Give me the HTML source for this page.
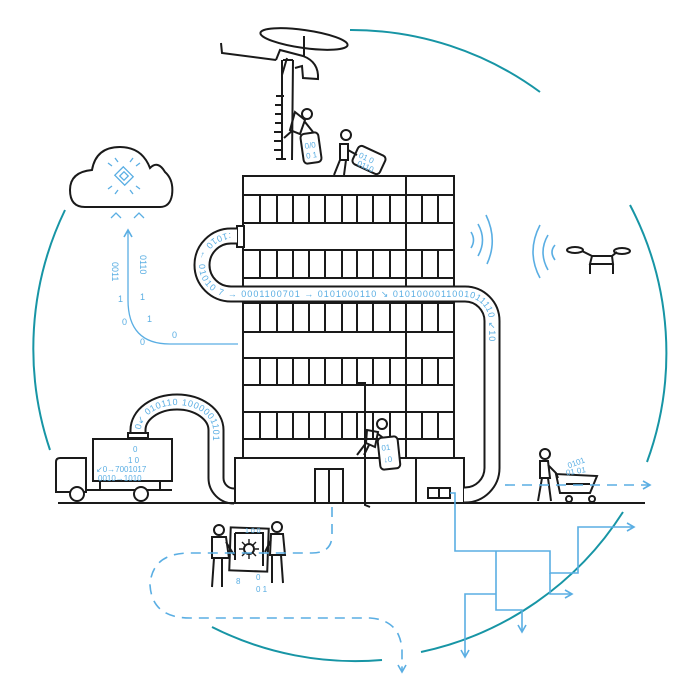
<!DOCTYPE html>
<html><head><meta charset="utf-8"><style>
html,body{margin:0;padding:0;background:#fff;}
svg{display:block;}
text{font-family:"Liberation Sans",sans-serif;fill:#5aaee3;}
</style></head><body>
<svg width="700" height="700" viewBox="0 0 700 700" xmlns="http://www.w3.org/2000/svg">
<defs>
<marker id="ah" markerWidth="10" markerHeight="10" refX="8" refY="5" orient="auto" markerUnits="userSpaceOnUse">
<path d="M1,1 L8,5 L1,9" fill="none" stroke="#5aaee3" stroke-width="1.6"/></marker>
</defs>
<g fill="none" stroke="#1795a5" stroke-width="2">
<path d="M350,30 A318,318 0 0 1 540,92"/>
<path d="M630,205 A318,318 0 0 1 647,462"/>
<path d="M623,512 A318,318 0 0 1 421,652"/>
<path d="M382,660 A318,318 0 0 1 212,627"/>
<path d="M65,210 A318,318 0 0 0 50,450"/>
</g>

<path d="M85,207 Q70,207 70,190 Q70,172 92,170 Q96,147 120,147 Q142,147 150,168 Q158,160 165,172 Q174,180 172,195 Q170,207 160,207 Z" fill="#fff" stroke="#1a1a1a" stroke-width="2"/>
<g stroke="#5aaee3" stroke-width="1.3" fill="none">
<rect x="117" y="170" width="14" height="12" transform="rotate(45 124 176)"/>
<rect x="121" y="173" width="6" height="6" transform="rotate(45 124 176)"/>
<path d="M112,166 l-4,-3 M118,162 l-3,-4 M130,162 l3,-4 M136,166 l4,-3 M112,186 l-4,3 M118,190 l-3,4 M130,190 l3,4 M136,186 l4,3"/>
<path d="M111,218 l5,-5 l5,5 M134,218 l5,-5 l5,5"/>
<path d="M238,344 L170,344 Q128,344 128,300 L128,230" marker-end="url(#ah)"/>
</g>
<text x="140" y="255" font-size="9" transform="rotate(90 140 255)">0110</text>
<text x="112" y="262" font-size="9" transform="rotate(90 112 262)">0011</text>
<text x="140" y="300" font-size="9">1</text>
<text x="118" y="302" font-size="9">1</text>
<text x="122" y="325" font-size="9">0</text>
<text x="147" y="322" font-size="9">1</text>
<text x="140" y="345" font-size="9">0</text>
<text x="172" y="338" font-size="9">0</text>

<g fill="none" stroke="#1a1a1a" stroke-width="2">
<ellipse cx="304" cy="39" rx="44" ry="9" transform="rotate(8 304 39)"/>
<path d="M304,36 L304,56"/>
<path d="M221,43 L222,53 L276,60"/>
<path d="M276,60 L280,50 L303,56 Q319,62 318,79 L303,78 L302,66 L295,68"/>
<path d="M287,58 L282,75 M282,60 L282,160 M293,60 L292,160 M283,60 L293,60"/>
<path d="M276,96 h8 M275,105 h8 M275,114 h8 M275,123 h8 M274,132 h8 M274,141 h8 M274,150 h8 M276,159 h10"/>
<circle cx="307" cy="114" r="5"/>
<path d="M295,112 L305,120 L300,134 L290,130 Z M293,130 L284,138 M305,122 L313,132"/>
<rect x="302" y="133" width="18" height="30" rx="4" transform="rotate(-8 311 148)"/>
<circle cx="346" cy="135" r="5"/>
<path d="M340,144 L348,144 L348,160 L340,160 Z M340,160 L334,175 M346,160 L344,175 M348,150 L357,155"/>
<rect x="354" y="150" width="30" height="20" rx="4" transform="rotate(25 369 160)"/>
</g>
<text x="305" y="148" font-size="8" transform="rotate(-8 311 148)">0/0</text>
<text x="305" y="158" font-size="8" transform="rotate(-8 311 148)">0 1</text>
<text x="358" y="162" font-size="8" transform="rotate(25 369 160)">01 0</text>
<text x="360" y="170" font-size="8" transform="rotate(25 369 160)">0110</text>

<rect x="243" y="176" width="211" height="282" fill="#fff" stroke="#1a1a1a" stroke-width="2"/>
<g stroke="#1a1a1a" stroke-width="2" fill="none">
<path d="M243,195H454 M243,223H454 M243,250H454 M243,278H454 M243,303H454 M243,332H454 M243,358H454 M243,385H454 M243,412H454 M243,439H454 M406,176V458"/>
<path d="M260,195V223 M277,195V223 M293,195V223 M309,195V223 M325,195V223 M342,195V223 M357,195V223 M373,195V223 M390,195V223 M422,195V223 M438,195V223"/>
<path d="M260,250V278 M277,250V278 M293,250V278 M309,250V278 M325,250V278 M342,250V278 M357,250V278 M373,250V278 M390,250V278 M422,250V278 M438,250V278"/>
<path d="M260,303V332 M277,303V332 M293,303V332 M309,303V332 M325,303V332 M342,303V332 M357,303V332 M373,303V332 M390,303V332 M422,303V332 M438,303V332"/>
<path d="M260,358V385 M277,358V385 M293,358V385 M309,358V385 M325,358V385 M342,358V385 M357,358V385 M373,358V385 M390,358V385 M422,358V385 M438,358V385"/>
<path d="M260,412V439 M277,412V439 M293,412V439 M309,412V439 M325,412V439 M342,412V439 M357,412V439 M373,412V439 M390,412V439 M422,412V439 M438,412V439"/>
</g>
<rect x="235" y="458" width="229" height="45" fill="#fff" stroke="#1a1a1a" stroke-width="2"/>
<g stroke="#1a1a1a" stroke-width="2" fill="none">
<path d="M416,458V503"/>
<rect x="315" y="469" width="28" height="34"/><path d="M329,469V503"/>
<rect x="428" y="488" width="22" height="10"/><path d="M439,488V498"/>
<path d="M358,383 L365,383 L365,505 L370,507"/>
<circle cx="382" cy="424" r="5"/>
<path d="M367,430 L378,432 L375,447 L366,443 Z M366,443 L357,455 M369,445 L364,455 M378,434 L386,440"/>
<rect x="379" y="437" width="20" height="32" rx="4" fill="#fff" transform="rotate(-6 389 453)"/>
<rect x="237" y="226" width="7" height="21" fill="#fff"/>
</g>
<text x="382" y="450" font-size="8" transform="rotate(-6 389 453)">01</text>
<text x="383" y="462" font-size="8" transform="rotate(-6 389 453)">↓0</text>

<g fill="none">
<path id="p1" d="M237,236 L231,236 A29,29 0 0 0 202,265 A29,29 0 0 0 231,294 L465,294 A27,27 0 0 1 492,321 L492,468 A27,27 0 0 1 465,495 L464,495" stroke="#1a1a1a" stroke-width="17"/>
<path d="M237,236 L231,236 A29,29 0 0 0 202,265 A29,29 0 0 0 231,294 L465,294 A27,27 0 0 1 492,321 L492,468 A27,27 0 0 1 465,495 L464,495" stroke="#fff" stroke-width="13"/>
<path id="p2" d="M138,437 L138,430 A39,28 0 0 1 216,430 L216,478 A18,18 0 0 0 234,496" stroke="#1a1a1a" stroke-width="17"/>
<path d="M138,437 L138,430 A39,28 0 0 1 216,430 L216,478 A18,18 0 0 0 234,496" stroke="#fff" stroke-width="13"/>
</g>
<text font-size="9" letter-spacing="1" dy="3"><textPath href="#p1" startOffset="6">:1010 ← 01010 7 → 0001100701 → 0101000110 ↘ 0101000011001011110 ↙10</textPath></text>
<text font-size="9" letter-spacing="1" dy="3"><textPath href="#p2" startOffset="8">0↙ 010110 1000001101</textPath></text>

<g fill="#fff" stroke="#1a1a1a" stroke-width="2">
<path d="M86,492 L56,492 L56,462 Q56,458 60,458 L86,458 Z"/>
<rect x="93" y="439" width="79" height="42"/>
<path d="M86,490 L172,490 M100,481V490 M160,481V490 M128,433h20v5h-20z"/>
<circle cx="77" cy="494" r="7"/><circle cx="141" cy="494" r="7"/>
</g>
<text x="133" y="452" font-size="8">0</text>
<text x="128" y="463" font-size="8">1 0</text>
<text x="96" y="472" font-size="8">↙0→7001017</text>
<text x="98" y="481" font-size="8">0010→1010</text>

<path d="M58,503 H645" stroke="#1a1a1a" stroke-width="2"/>

<g fill="none" stroke="#5aaee3" stroke-width="1.6">
<path d="M471,232 Q476,240 471,248 M478,224 Q487,240 478,256 M486,215 Q498,240 487,264"/>
<path d="M555,245 Q549,252 555,260 M548,235 Q538,252 548,270 M540,225 Q526,252 540,278"/>
</g>
<g fill="none" stroke="#1a1a1a" stroke-width="2">
<ellipse cx="575" cy="250" rx="8" ry="3"/><ellipse cx="622" cy="251" rx="8" ry="3"/>
<path d="M582,251 L592,256 L612,256 L617,252 M592,256 L590,264 L613,264 L612,256 M590,264 L590,274 M613,264 L613,274"/>
</g>

<g fill="none" stroke="#1a1a1a" stroke-width="2">
<circle cx="545" cy="454" r="5"/>
<path d="M540,461 L548,461 L550,478 L540,478 Z M542,478 L538,501 M548,478 L551,501 M548,465 L556,473 L558,478"/>
<path d="M556,474 L560,493 L590,493 L597,476 Z M566,484 H590"/>
<circle cx="569" cy="499" r="3"/><circle cx="592" cy="499" r="3"/>
</g>
<text x="568" y="466" font-size="8" transform="rotate(-20 575 465)">0101</text>
<text x="566" y="474" font-size="8" transform="rotate(-10 575 472)">01 01</text>
<path d="M505,485 H650" fill="none" stroke="#5aaee3" stroke-width="1.6" stroke-dasharray="10,7" marker-end="url(#ah)"/>

<g fill="none" stroke="#1a1a1a" stroke-width="2">
<circle cx="219" cy="530" r="5"/>
<path d="M212,537 L226,537 L229,558 L212,558 Z M214,558 L212,587 M222,558 L222,587 M226,542 L234,555"/>
<circle cx="277" cy="527" r="5"/>
<path d="M271,534 L283,534 L285,555 L270,555 Z M272,555 L272,583 M281,555 L283,583 M271,540 L265,552"/>
<rect x="230" y="528" width="38" height="43" transform="rotate(2 249 549)"/>
<path d="M235,533 H263 V566 M235,533 V560"/>
<circle cx="249" cy="549" r="5"/>
<path d="M249,539v4 M249,555v4 M239,549h4 M255,549h4 M242,542l3,3 M253,553l3,3 M256,542l-3,3 M242,556l3,-3" stroke-width="1.4"/>
</g>
<text x="236" y="584" font-size="8">8</text>
<text x="256" y="580" font-size="8">0</text>
<text x="256" y="592" font-size="8">0 1</text>
<text x="245" y="533" font-size="7">1 0 0</text>

<path d="M332,507 L332,535 Q332,553 312,553 L190,553 Q152,553 150,585 Q152,618 190,618 L370,618 Q400,620 402,650 L402,672" fill="none" stroke="#5aaee3" stroke-width="1.6" stroke-dasharray="10,7" marker-end="url(#ah)"/>

<g fill="none" stroke="#5aaee3" stroke-width="1.6">
<path d="M450,493 H455 V551 H550 V573 H578 V527 H634" marker-end="url(#ah)"/>
<path d="M550,573 V594 H572" marker-end="url(#ah)"/>
<path d="M496,551 V610 H522 V632" marker-end="url(#ah)"/>
<path d="M496,594 H465 V657" marker-end="url(#ah)"/>
</g>
</svg>
</body></html>
